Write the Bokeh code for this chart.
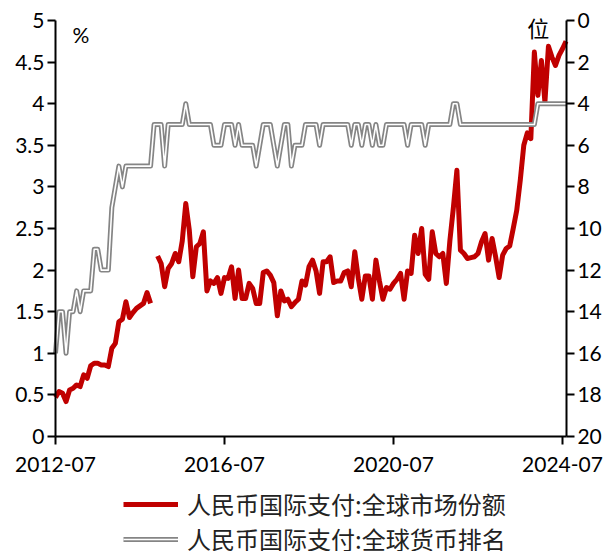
from bokeh.plotting import figure
from bokeh.models import (Range1d, LinearAxis, FixedTicker, NumeralTickFormatter,
                          Legend, LegendItem, Label)
from bokeh.embed import file_html
from bokeh.resources import INLINE

nan = float("nan")

# months counted from 2012-07 (index 0) to 2024-08 (index 145)
month_index = list(range(146))
x_tick_pos = [0, 48, 96, 144]
x_tick_labels = ["2012-07", "2016-07", "2020-07", "2024-07"]
left_ticks = [0, 0.5, 1, 1.5, 2, 2.5, 3, 3.5, 4, 4.5, 5]
right_ticks = [0, 2, 4, 6, 8, 10, 12, 14, 16, 18, 20]

series_share_name = "人民币国际支付:全球市场份额"
series_rank_name = "人民币国际支付:全球货币排名"

# 人民币国际支付:全球市场份额 (%)
share = [
    0.47, 0.54, 0.52, 0.42, 0.56, 0.58, 0.62, 0.60, 0.74, 0.70,
    0.85, 0.88, 0.88, 0.86, 0.86, 0.84, 1.06, 1.12, 1.38, 1.41,
    1.62, 1.43, 1.49, 1.54, 1.57, 1.60, 1.73, 1.60, nan, 2.17,
    2.08, 1.80, 2.02, 2.08, 2.20, 2.10, 2.35, 2.80, 2.48, 1.92,
    2.28, 2.32, 2.46, 1.75, 1.87, 1.84, 1.91, 1.72, 1.91, 1.90,
    2.04, 1.66, 2.00, 1.66, 1.66, 1.84, 1.78, 1.60, 1.60, 1.97,
    1.99, 1.94, 1.85, 1.45, 1.75, 1.63, 1.65, 1.56, 1.61, 1.65,
    1.87, 1.82, 2.04, 2.12, 1.99, 1.72, 2.10, 2.10, 2.16, 1.85,
    1.87, 1.87, 1.97, 1.99, 1.80, 2.22, 1.90, 1.65, 1.93, 1.93,
    1.65, 2.12, 1.87, 1.65, 1.79, 1.77, 1.84, 1.89, 1.96, 1.65,
    1.99, 1.96, 2.42, 2.20, 2.50, 1.95, 1.89, 2.46, 2.20, 2.16,
    2.20, 1.84, 2.35, 2.75, 3.20, 2.24, 2.20, 2.14, 2.15, 2.16,
    2.20, 2.34, 2.44, 2.12, 2.38, 2.16, 1.91, 2.18, 2.26, 2.29,
    2.50, 2.72, 3.08, 3.50, 3.65, 3.58, 4.62, 4.10, 4.52, 4.02,
    4.69, 4.56, 4.46, 4.58, 4.66, 4.75,
]

# 人民币国际支付:全球货币排名 (位)
rank = [
    16, 14, 14, 16, 14, 14, 13, 14, 13, 13,
    13, 11, 11, 12, 12, 12, 9, 8, 7, 8,
    7, 7, 7, 7, 7, 7, 7, 7, 5, 5,
    5, 7, 5, 5, 5, 5, 5, 4, 5, 5,
    5, 5, 5, 5, 5, 6, 6, 6, 5, 5,
    5, 6, 5, 6, 6, 6, 6, 7, 6, 5,
    5, 5, 6, 7, 6, 5, 5, 7, 6, 6,
    6, 5, 5, 5, 5, 6, 5, 5, 5, 5,
    5, 5, 5, 5, 6, 5, 5, 6, 5, 5,
    6, 5, 6, 6, 5, 5, 5, 5, 5, 5,
    6, 5, 5, 5, 5, 6, 5, 5, 5, 5,
    5, 5, 5, 4, 4, 5, 5, 5, 5, 5,
    5, 5, 5, 5, 5, 5, 5, 5, 5, 5,
    5, 5, 5, 5, 5, 5, 5, 4, 4, 4,
    4, 4, 4, 4, 4, 4,
]

FONT = "Lato"
CJK = "Noto Sans CJK SC"

X_END = 145.1  # right axis position (months)

# The plotting frame covers the whole page; the three axes are pinned at
# their data positions and bounded to their value spans, so the legend and
# the edge tick labels can sit outside the value area without being clipped.
p = figure(width=606, height=551, output_backend="svg", toolbar_location=None,
           x_range=Range1d(-15.62, 156.49), y_range=Range1d(-1.3822, 5.2404),
           min_border_left=0, min_border_right=0, min_border_top=0,
           min_border_bottom=0)
p.extra_y_ranges = {"rank": Range1d(25.529, -0.9615)}
p.outline_line_color = None
p.xgrid.visible = False
p.ygrid.visible = False
p.background_fill_color = "white"
p.border_fill_color = "white"


def style_axis(ax):
    ax.axis_line_color = "black"
    ax.axis_line_width = 2
    ax.major_tick_line_color = "black"
    ax.major_tick_line_width = 2
    ax.major_tick_out = 8
    ax.major_tick_in = 0
    ax.minor_tick_line_color = None
    ax.major_label_text_font = FONT
    ax.major_label_text_font_size = "21px"
    ax.major_label_text_color = "black"
    ax.major_label_standoff = 3


xa = p.xaxis[0]
style_axis(xa)
xa.ticker = FixedTicker(ticks=x_tick_pos)
xa.major_label_overrides = {t: l for t, l in zip(x_tick_pos, x_tick_labels)}
xa.major_label_standoff = 12
xa.fixed_location = 0
xa.bounds = (0, X_END)

ya = p.yaxis[0]
style_axis(ya)
ya.ticker = FixedTicker(ticks=left_ticks)
ya.formatter = NumeralTickFormatter(format="0.[0]")
ya.bounds = (0, 5)
ya.fixed_location = 0

ra = LinearAxis(y_range_name="rank", ticker=FixedTicker(ticks=right_ticks))
style_axis(ra)
ra.bounds = (0, 20)
ra.fixed_location = X_END
p.add_layout(ra, "right")

r_red = p.line(month_index, share, line_color="#C00000", line_width=5,
               line_join="round")
r_gray_o = p.line(month_index, rank, y_range_name="rank", line_color="#858585",
                  line_width=5, line_join="round")
r_gray_i = p.line(month_index, rank, y_range_name="rank", line_color="white",
                  line_width=1.6, line_join="round")

legend_kw = dict(orientation="vertical", label_text_font=CJK,
                 label_text_font_size="24px", label_text_color="#222222",
                 glyph_width=55, glyph_height=30, label_height=30,
                 spacing=0, padding=0, margin=0, label_standoff=9,
                 background_fill_alpha=0, border_line_alpha=0)
legend1 = Legend(items=[LegendItem(label=series_share_name, renderers=[r_red])],
                 location=(123, 30), **legend_kw)
legend2 = Legend(items=[LegendItem(label=series_rank_name,
                                   renderers=[r_gray_o, r_gray_i])],
                 location=(123, -5), **legend_kw)
p.add_layout(legend1)
p.add_layout(legend2)

p.add_layout(Label(x=4.8, y=4.83, text="%", text_font=FONT, text_font_size="21px",
                   text_baseline="middle", text_align="left", text_color="black"))
p.add_layout(Label(x=134, y=0.29, y_range_name="rank", text="位", text_font=CJK,
                   text_font_size="22px", text_baseline="middle", text_align="left",
                   text_color="black"))

open("out.html", "w").write(file_html(p, INLINE))
